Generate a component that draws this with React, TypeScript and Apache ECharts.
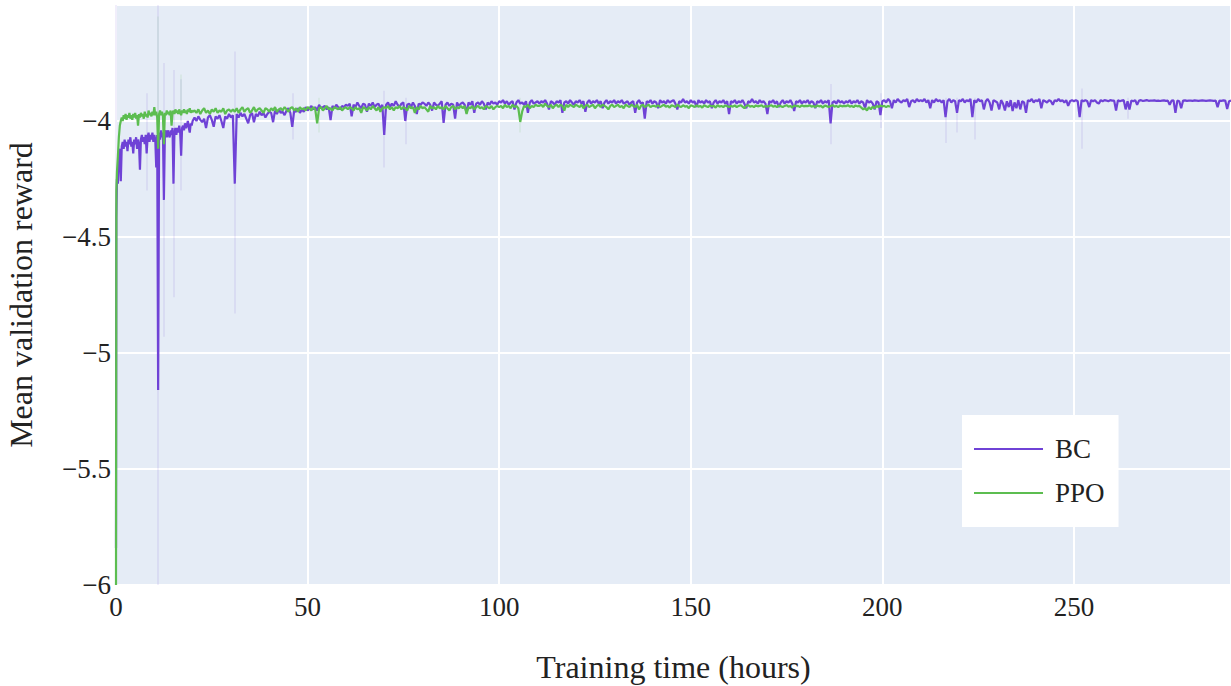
import React, { useEffect, useRef } from "react";
import * as echarts from "echarts";

// ---------- DATA ----------
const xTicks = [0, 50, 100, 150, 200, 250];
const yTicks = [-6, -5.5, -5, -4.5, -4];

// BC: head points (hours, reward)
const bcHeadT = [0, 0.08];
const bcHeadV = [-5.84, -4.42];
// BC early values, every 0.25 h from 0.25 to 20
const bcEarly = [
  -4.25, -4.27, -4.14, -4.12, -4.26, -4.11, -4.09, -4.12, -4.08, -4.11,
  -4.09, -4.13, -4.08, -4.10, -4.07, -4.11, -4.09, -4.14, -4.08, -4.10,
  -4.07, -4.12, -4.08, -4.10, -4.21, -4.08, -4.06, -4.09, -4.07, -4.10,
  -4.06, -4.14, -4.07, -4.05, -4.09, -4.06, -4.08, -4.05, -4.09, -4.06,
  -4.08, -4.20, -4.06, -5.16, -4.05, -4.08, -4.04, -4.07, -4.05, -4.34,
  -4.06, -4.04, -4.07, -4.04, -4.06, -4.07, -4.04, -4.06, -4.03, -4.27,
  -4.05, -4.03, -4.06, -4.03, -4.05, -4.02, -4.05, -4.15, -4.03, -4.02,
  -4.04, -4.01, -4.03, -4.02, -4.00, -4.03, -4.05, -4.01, -4.02, -4.00,
];
// BC main values, every 0.5 h from 20.5 to 291
const bcMain = [
  -3.985, -4.0, -3.98, -3.995, -4.005, -3.99, -4.03, -3.985, -3.975, -3.995, -4.025, -3.98, -3.99, -3.975, -4.0, -4.03, -3.98, -3.99, -3.97, -3.985,
  -3.975, -4.27, -3.97, -3.985, -3.965, -3.98, -3.97, -3.99, -4.01, -3.975, -3.965, -4.005, -3.97, -3.98, -3.96, -3.975, -3.965, -3.985, -3.97, -3.96,
  -3.965, -4.005, -3.955, -3.97, -3.95, -3.965, -3.96, -3.975, -3.955, -3.945, -3.965, -4.025, -3.955, -3.96, -3.945, -3.965, -3.95, -3.96, -3.94, -3.955,
  -3.945, -3.935, -3.95, -3.94, -3.955, -3.93, -3.945, -3.94, -3.935, -3.95, -3.94, -3.996, -3.935, -3.945, -3.93, -3.94, -3.95, -3.935, -3.94, -3.93,
  -3.935, -3.925, -3.98, -3.93, -3.94, -3.92, -3.935, -3.945, -3.925, -3.93, -3.96, -3.925, -3.935, -3.92, -3.94, -3.93, -3.925, -3.945, -3.93, -4.06,
  -3.93, -3.92, -3.94, -3.925, -3.935, -3.915, -3.93, -3.94, -3.925, -3.92, -4.0, -3.93, -3.925, -3.94, -3.92, -3.935, -3.97, -3.925, -3.93, -3.92,
  -3.925, -3.935, -3.92, -3.93, -3.955, -3.92, -3.93, -3.935, -3.925, -3.915, -4.008, -3.93, -3.92, -3.935, -3.925, -3.93, -3.99, -3.92, -3.935, -3.925,
  -3.92, -3.93, -3.965, -3.92, -3.93, -3.915, -3.965, -3.925, -3.92, -3.93, -3.915, -3.925, -3.95, -3.92, -3.93, -3.915, -3.925, -3.92, -3.93, -3.915,
  -3.92, -3.91, -3.925, -3.915, -3.93, -3.92, -3.915, -3.95, -3.92, -3.91, -3.925, -3.92, -3.93, -3.915, -3.965, -3.92, -3.91, -3.925, -3.92, -3.915,
  -3.925, -3.915, -3.92, -3.91, -3.925, -3.95, -3.915, -3.92, -3.93, -3.915, -3.92, -3.91, -3.965, -3.92, -3.915, -3.925, -3.91, -3.92, -3.93, -3.915,
  -3.92, -3.91, -3.925, -3.915, -3.96, -3.92, -3.91, -3.925, -3.915, -3.92, -3.91, -3.925, -3.915, -3.945, -3.92, -3.91, -3.925, -3.915, -3.92, -3.91,
  -3.925, -3.915, -3.92, -3.91, -3.925, -3.92, -3.915, -3.93, -3.92, -3.915, -3.965, -3.92, -3.91, -3.925, -3.92, -3.99, -3.915, -3.92, -3.91, -3.925,
  -3.915, -3.92, -3.945, -3.91, -3.92, -3.915, -3.925, -3.91, -3.92, -3.915, -3.91, -3.925, -3.95, -3.915, -3.92, -3.905, -3.92, -3.915, -3.925, -3.91,
  -3.92, -3.915, -3.94, -3.91, -3.92, -3.915, -3.925, -3.91, -3.92, -3.915, -3.945, -3.92, -3.91, -3.925, -3.915, -3.92, -3.91, -3.925, -3.915, -3.97,
  -3.915, -3.92, -3.91, -3.925, -3.915, -3.92, -3.91, -3.925, -3.945, -3.915, -3.92, -3.905, -3.92, -3.915, -3.925, -3.91, -3.92, -3.915, -3.925, -3.97,
  -3.915, -3.92, -3.91, -3.925, -3.915, -3.94, -3.92, -3.91, -3.925, -3.915, -3.92, -3.91, -3.925, -3.957, -3.915, -3.92, -3.91, -3.925, -3.915, -3.92,
  -3.91, -3.925, -3.915, -3.92, -3.945, -3.915, -3.92, -3.91, -3.925, -3.915, -3.92, -3.91, -4.01, -3.92, -3.915, -3.925, -3.91, -3.92, -3.915, -3.925,
  -3.915, -3.92, -3.91, -3.925, -3.915, -3.92, -3.91, -3.925, -3.915, -3.92, -3.945, -3.91, -3.92, -3.915, -3.925, -3.95, -3.915, -3.92, -3.975, -3.915,
  -3.91, -3.92, -3.905, -3.915, -3.945, -3.91, -3.92, -3.905, -3.915, -3.92, -3.91, -3.915, -3.905, -3.94, -3.915, -3.91, -3.92, -3.905, -3.915, -3.91,
  -3.915, -3.905, -3.92, -3.91, -3.945, -3.91, -3.92, -3.905, -3.915, -3.91, -3.92, -3.91, -3.983, -3.915, -3.905, -3.92, -3.91, -3.915, -3.965, -3.91,
  -3.915, -3.905, -3.92, -3.91, -3.915, -3.905, -3.983, -3.91, -3.92, -3.905, -3.915, -3.91, -3.95, -3.915, -3.905, -3.92, -3.955, -3.91, -3.915, -3.92,
  -3.95, -3.91, -3.925, -3.955, -3.915, -3.94, -3.91, -3.957, -3.92, -3.945, -3.91, -3.95, -3.915, -3.92, -3.965, -3.91, -3.915, -3.905, -3.92, -3.91,
  -3.915, -3.905, -3.945, -3.91, -3.915, -3.92, -3.91, -3.915, -3.93, -3.91, -3.915, -3.905, -3.915, -3.91, -3.92, -3.91, -3.935, -3.915, -3.91, -3.915,
  -3.91, -3.915, -3.983, -3.91, -3.915, -3.91, -3.915, -3.94, -3.91, -3.915, -3.91, -3.92, -3.925, -3.91, -3.915, -3.91, -3.912, -3.915, -3.91, -3.912,
  -3.912, -3.955, -3.91, -3.915, -3.912, -3.91, -3.95, -3.915, -3.95, -3.912, -3.915, -3.91, -3.93, -3.912, -3.91, -3.914, -3.912, -3.91, -3.913, -3.912,
  -3.912, -3.911, -3.913, -3.912, -3.914, -3.912, -3.911, -3.913, -3.912, -3.93, -3.912, -3.911, -3.965, -3.912, -3.915, -3.945, -3.912, -3.911, -3.913, -3.912,
  -3.912, -3.913, -3.911, -3.912, -3.913, -3.912, -3.911, -3.912, -3.913, -3.912, -3.911, -3.912, -3.913, -3.912, -3.94, -3.912, -3.913, -3.911, -3.912, -3.948,
  -3.915, -3.912,
];

// PPO
const ppoHeadT = [0, 0.1];
const ppoHeadV = [-6.0, -4.3];
// every 0.25 h from 0.25 to 20
const ppoEarly = [
  -4.22, -4.15, -4.07, -4.02, -4.00, -3.985, -4.00, -3.975, -3.99, -3.97,
  -3.995, -3.975, -3.985, -3.965, -3.99, -3.975, -3.995, -3.97, -3.985, -3.965,
  -3.99, -3.975, -4.02, -3.97, -3.985, -3.965, -3.98, -3.97, -3.99, -3.96,
  -3.98, -3.97, -3.985, -3.955, -3.975, -3.965, -3.98, -3.96, -3.975, -3.94,
  -3.975, -3.96, -3.985, -4.12, -3.97, -3.955, -3.975, -3.96, -3.98, -4.10,
  -3.965, -3.975, -3.955, -3.97, -3.96, -3.975, -3.955, -4.02, -3.965, -3.955,
  -3.97, -3.95, -3.965, -3.955, -3.97, -3.95, -3.965, -3.975, -3.955, -3.965,
  -3.95, -3.965, -3.955, -3.97, -3.95, -3.96, -3.945, -3.965, -3.955, -3.96,
];
// every 0.5 h from 20.5 to 202
const ppoMain = [
  -3.955, -3.965, -3.95, -3.97, -3.955, -3.945, -3.965, -3.955, -3.97, -3.95, -3.96, -3.945, -3.965, -3.955, -3.96, -3.945, -3.97, -3.955, -3.95, -3.96,
  -3.95, -3.96, -3.945, -3.965, -3.95, -3.94, -3.96, -3.95, -3.945, -3.965, -3.955, -3.94, -3.96, -3.95, -3.945, -3.955, -3.965, -3.945, -3.95, -3.96,
  -3.945, -3.955, -3.94, -3.96, -3.95, -3.945, -3.955, -3.94, -3.95, -3.96, -3.945, -3.94, -3.955, -3.945, -3.96, -3.94, -3.95, -3.945, -3.955, -3.94,
  -3.945, -3.955, -3.94, -3.95, -4.01, -3.945, -3.94, -3.955, -3.945, -3.935, -3.95, -3.945, -3.955, -3.94, -3.945, -3.95, -3.94, -3.955, -3.945, -3.94,
  -3.95, -3.94, -3.945, -3.955, -3.94, -3.95, -3.945, -3.965, -3.94, -3.945, -3.955, -3.94, -3.95, -3.935, -3.945, -3.955, -3.94, -3.96, -3.945, -3.94,
  -3.945, -3.935, -3.95, -3.94, -3.955, -3.94, -3.945, -3.935, -3.95, -3.94, -3.945, -3.955, -3.935, -3.945, -3.94, -3.965, -3.94, -3.95, -3.935, -3.945,
  -3.94, -3.95, -3.96, -3.935, -3.945, -3.94, -3.95, -3.935, -3.945, -3.94, -3.95, -3.935, -3.945, -3.955, -3.94, -3.935, -3.95, -3.94, -3.945, -3.935,
  -3.945, -3.935, -3.97, -3.94, -3.945, -3.935, -3.95, -3.94, -3.935, -3.945, -3.94, -3.95, -3.935, -3.94, -3.945, -3.935, -3.95, -3.94, -3.935, -3.94,
  -3.935, -3.945, -3.93, -3.94, -3.935, -3.945, -3.93, -3.94, -3.935, -3.945, -4.004, -3.96, -3.935, -3.94, -3.93, -3.945, -3.935, -3.94, -3.93, -3.935,
  -3.935, -3.93, -3.94, -3.925, -3.935, -3.94, -3.93, -3.945, -3.935, -3.93, -3.94, -3.93, -3.935, -3.955, -3.93, -3.94, -3.93, -3.935, -3.94, -3.93,
  -3.935, -3.94, -3.93, -3.945, -3.935, -3.93, -3.94, -3.935, -3.93, -3.945, -3.935, -3.93, -3.94, -3.93, -3.935, -3.94, -3.95, -3.935, -3.93, -3.94,
  -3.935, -3.93, -3.94, -3.935, -3.945, -3.93, -3.935, -3.94, -3.93, -3.935, -3.94, -3.93, -3.95, -3.935, -3.93, -3.94, -3.935, -3.93, -3.94, -3.935,
  -3.935, -3.938, -3.932, -3.94, -3.935, -3.93, -3.938, -3.935, -3.942, -3.932, -3.935, -3.94, -3.93, -3.936, -3.94, -3.932, -3.938, -3.935, -3.945, -3.932,
  -3.935, -3.94, -3.932, -3.938, -3.935, -3.942, -3.932, -3.936, -3.94, -3.933, -3.937, -3.935, -3.942, -3.932, -3.938, -3.935, -3.94, -3.933, -3.936, -3.94,
  -3.935, -3.938, -3.933, -3.94, -3.935, -3.932, -3.938, -3.945, -3.935, -3.932, -3.938, -3.935, -3.94, -3.933, -3.937, -3.935, -3.932, -3.94, -3.935, -3.938,
  -3.935, -3.932, -3.938, -3.935, -3.94, -3.933, -3.936, -3.94, -3.935, -3.932, -3.938, -3.935, -3.942, -3.933, -3.936, -3.935, -3.94, -3.932, -3.937, -3.935,
  -3.936, -3.932, -3.938, -3.935, -3.94, -3.933, -3.937, -3.935, -3.942, -3.933, -3.936, -3.94, -3.935, -3.932, -3.938, -3.935, -3.94, -3.933, -3.937, -3.935,
  -3.936, -3.932, -3.938, -3.935, -3.94, -3.933, -3.937, -3.935, -3.942, -3.95, -3.945, -3.955, -3.94, -3.95, -3.938, -3.945, -3.935, -3.94, -3.933, -3.937,
  -3.935, -3.94, -3.935, -3.938,
];

// faint spread (min/max) spikes
const bcBandT = [0.05, 8, 11, 12.5, 15, 17, 31, 46, 70, 75.5, 186.5, 199.5, 216.5, 219.5, 224, 252, 264];
const bcBandHi = [-3.5, -3.88, -3.5, -3.75, -3.78, -3.82, -3.7, -3.88, -3.87, -3.9, -3.84, -3.88, -3.9, -3.9, -3.9, -3.86, -3.9];
const bcBandLo = [-4.42, -4.3, -6.0, -4.93, -4.76, -4.3, -4.83, -4.08, -4.2, -4.1, -4.1, -4.03, -4.095, -4.05, -4.08, -4.12, -3.99];
const ppoBandT = [11, 17, 53, 105.5];
const ppoBandHi = [-3.55, -3.8, -3.9, -3.9];
const ppoBandLo = [-4.1, -4.0, -4.05, -4.05];

const seriesNames = ["BC", "PPO"];

// ---------- BUILD ----------
function buildSeries(headT: number[], headV: number[], early: number[], main: number[]) {
  const pts: number[][] = [];
  headT.forEach((t, i) => pts.push([t, headV[i]]));
  early.forEach((v, i) => pts.push([0.25 * (i + 1), v]));
  main.forEach((v, i) => pts.push([20 + 0.5 * (i + 1), v]));
  return pts;
}
function buildBand(t: number[], hi: number[], lo: number[]) {
  return t.map((x, i) => ({ coords: [[x, hi[i]], [x, lo[i]]] }));
}

const BC_COLOR = "#6f42d6";
const PPO_COLOR = "#5cbd50";
const FONT = "Liberation Serif";
const TXT = "#222";
const minus = (v: number) => String(v).replace("-", "\u2212");

export default function App() {
  const ref = useRef<HTMLDivElement>(null);
  useEffect(() => {
    if (!ref.current) return;
    const chart = echarts.init(ref.current, null, { renderer: "svg" });
    chart.setOption({
      animation: false,
      textStyle: { fontFamily: FONT },
      grid: {
        left: 116,
        right: 0,
        top: 5,
        bottom: 101,
        containLabel: false,
        outerBoundsMode: "none",
        show: true,
        backgroundColor: "#E5ECF6",
        borderWidth: 0,
      },
      legend: {
        data: seriesNames,
        orient: "vertical",
        left: 962,
        top: 415,
        backgroundColor: "#ffffff",
        borderWidth: 0,
        padding: [19, 14, 19, 12],
        itemGap: 14,
        itemWidth: 69,
        itemHeight: 2,
        icon: "rect",
        textStyle: { fontFamily: FONT, fontSize: 27, color: TXT, lineHeight: 30, padding: [0, 0, 0, 7] },
      },
      xAxis: {
        type: "value",
        min: 0,
        max: 291,
        interval: 50,
        name: "Training time (hours)",
        nameLocation: "middle",
        nameGap: 66,
        nameTextStyle: { fontFamily: FONT, fontSize: 32, color: TXT },
        axisLine: { show: false },
        axisTick: { show: false },
        splitLine: { show: true, lineStyle: { color: "#ffffff", width: 2 } },
        axisLabel: {
          fontFamily: FONT,
          fontSize: 27,
          color: TXT,
          margin: 8,
          showMaxLabel: false,
          formatter: (v: number) => (xTicks.includes(v) ? minus(v) : ""),
        },
      },
      yAxis: {
        type: "value",
        min: -6,
        max: -3.5,
        interval: 0.5,
        name: "Mean validation reward",
        nameLocation: "middle",
        nameGap: 79,
        nameTextStyle: { fontFamily: FONT, fontSize: 32, color: TXT },
        axisLine: { show: false },
        axisTick: { show: false },
        splitLine: { show: true, lineStyle: { color: "#ffffff", width: 2 } },
        axisLabel: {
          fontFamily: FONT,
          fontSize: 27,
          color: TXT,
          margin: 5,
          showMaxLabel: false,
          formatter: (v: number) => (yTicks.includes(v) ? minus(v) : ""),
        },
      },
      series: [
        {
          type: "lines",
          coordinateSystem: "cartesian2d",
          silent: true,
          z: 1,
          data: buildBand(bcBandT, bcBandHi, bcBandLo),
          lineStyle: { color: "rgba(111,66,214,0.12)", width: 1.5, opacity: 1 },
        },
        {
          type: "lines",
          coordinateSystem: "cartesian2d",
          silent: true,
          z: 1,
          data: buildBand(ppoBandT, ppoBandHi, ppoBandLo),
          lineStyle: { color: "rgba(92,189,80,0.12)", width: 1.5, opacity: 1 },
        },
        {
          name: "BC",
          type: "line",
          z: 2,
          showSymbol: false,
          symbol: "none",
          color: BC_COLOR,
          lineStyle: { color: BC_COLOR, width: 2.2, join: "bevel" },
          itemStyle: { color: BC_COLOR },
          data: buildSeries(bcHeadT, bcHeadV, bcEarly, bcMain),
        },
        {
          name: "PPO",
          type: "line",
          z: 3,
          showSymbol: false,
          symbol: "none",
          color: PPO_COLOR,
          lineStyle: { color: PPO_COLOR, width: 2.2, join: "bevel" },
          itemStyle: { color: PPO_COLOR },
          data: buildSeries(ppoHeadT, ppoHeadV, ppoEarly, ppoMain),
        },
      ],
    });
    return () => chart.dispose();
  }, []);
  return (
    <div
      ref={ref}
      style={{ position: "fixed", left: 0, top: 0, width: 1231, height: 686, background: "#fff" }}
    />
  );
}
